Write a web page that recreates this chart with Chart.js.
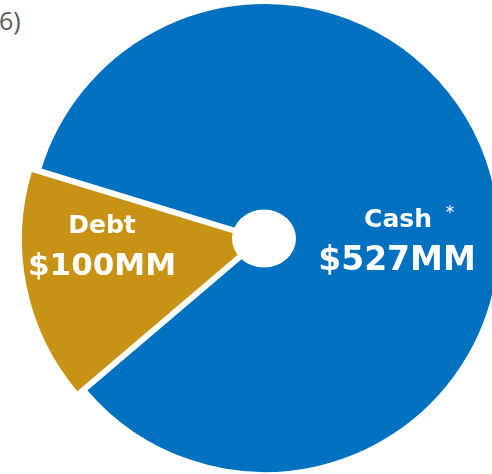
<!DOCTYPE html>
<html lang="en">
<head>
<meta charset="UTF-8">
<title>Cash vs Debt</title>
<script src="https://cdn.jsdelivr.net/npm/chart.js"></script>
<style>
  html,body{margin:0;padding:0;background:#fff;overflow:hidden;width:492px;height:474px}
  #wrap{position:absolute;left:0;top:0;width:530px;height:476px}
  #cut{position:absolute;left:-1px;top:3px;font-family:"Open Sans",Arial,sans-serif;font-size:25px;line-height:34px;color:#595959}
</style>
</head>
<body>
<div id="cut">6)</div>
<div id="wrap"><canvas id="chart"></canvas></div>
<script>
// data
const categories=['Cash','Debt'];
const amounts=[527,100];
const valueLabels=['$527MM','$100MM'];
const sliceColors=['#0070c0','#c89315'];

// white hole in the middle + slice labels
const overlay={
  id:'overlay',
  afterDatasetsDraw(chart){
    const ctx=chart.ctx;
    const arcs=chart.getDatasetMeta(0).data;
    const cx=arcs[0].x, cy=arcs[0].y;
    ctx.save();
    ctx.fillStyle='#fff';
    ctx.beginPath();
    ctx.ellipse(cx-1,cy+0.5,32,29,0,0,Math.PI*2);
    ctx.fill();

    ctx.textAlign='center';
    ctx.textBaseline='alphabetic';
    ctx.fillStyle='#fff';
    // Debt
    ctx.font='bold 25px "DejaVu Sans"';
    ctx.fillText(categories[1],cx-163,cy-5);
    ctx.font='bold 31px "DejaVu Sans"';
    ctx.fillText(valueLabels[1],cx-163,cy+37);
    // Cash
    ctx.font='bold 25px "DejaVu Sans"';
    ctx.fillText(categories[0],cx+133,cy-11);
    ctx.font='17px "DejaVu Sans"';
    ctx.fillText('*',cx+185,cy-20);
    ctx.font='bold 33px "DejaVu Sans"';
    ctx.fillText(valueLabels[0],cx+132,cy+32);
    ctx.restore();
  }
};

new Chart(document.getElementById('chart'),{
  type:'pie',
  data:{
    labels:categories,
    datasets:[{
      data:amounts,
      backgroundColor:sliceColors,
      borderColor:'#fff',
      borderWidth:2,
      offset:[0,32]
    }]
  },
  options:{
    responsive:true,
    maintainAspectRatio:false,
    animation:false,
    rotation:-73,
    radius:235,
    layout:{padding:0},
    events:[],
    plugins:{legend:{display:false},tooltip:{enabled:false}}
  },
  plugins:[overlay]
});
</script>
</body>
</html>
